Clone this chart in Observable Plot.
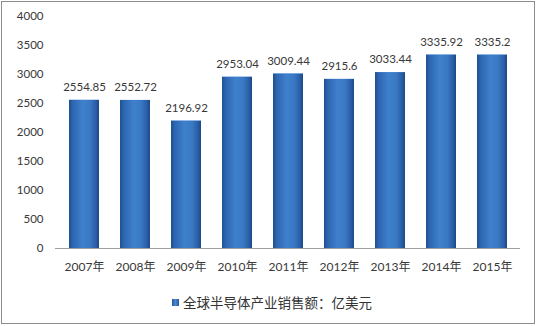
<!DOCTYPE html>
<html><head><meta charset="utf-8">
<script src="https://cdn.jsdelivr.net/npm/d3@7"></script>
<script src="https://cdn.jsdelivr.net/npm/@observablehq/plot@0.6"></script>
<style>
body{margin:0;background:#fff;}
#wrap{position:relative;width:536px;height:326px;overflow:hidden;font-family:Lato,"Noto Sans CJK SC",sans-serif;}
#frame{position:absolute;left:1px;top:1px;width:532px;height:321px;border:1px solid #8c8c8c;pointer-events:none;box-sizing:content-box;}
#chart{position:absolute;left:0;top:0;}
#legend{position:absolute;left:172px;top:292px;font-size:13.5px;color:#333;font-family:"Noto Sans CJK SC",sans-serif;display:flex;align-items:center;}
#legend span.sw{display:inline-block;width:7px;height:7px;background:linear-gradient(90deg,#25569a,#4a8ad4,#25569a);margin-right:4px;}
</style></head>
<body>
<div id="wrap"><div id="chart"></div><div id="legend"><span class="sw"></span><span id="ltext"></span></div><div id="frame"></div></div>
<script>
const years = ["2007年","2008年","2009年","2010年","2011年","2012年","2013年","2014年","2015年"];
const sales = [2554.85,2552.72,2196.92,2953.04,3009.44,2915.6,3033.44,3335.92,3335.2];
const labels = ["2554.85","2552.72","2196.92","2953.04","3009.44","2915.6","3033.44","3335.92","3335.2"];
const yTicks = [0,500,1000,1500,2000,2500,3000,3500,4000];
const seriesName = "全球半导体产业销售额：亿美元";

const data = years.map((y,i)=>({year:y, value:sales[i], label:labels[i]}));
const capH = 60;
const plot = Plot.plot({
  width:536, height:285,
  marginLeft:55, marginRight:16, marginTop:16, marginBottom:37,
  style:{fontFamily:"Lato, 'Noto Sans CJK SC', sans-serif", fontSize:"11.5px", color:"#383838", background:"transparent"},
  x:{domain:years, paddingInner:0.42, paddingOuter:0.21, label:null, tickSize:0, tickPadding:14},
  y:{domain:[0,4000], ticks:yTicks, tickFormat:d=>String(d), label:null, tickSize:0, tickPadding:12},
  marks:[
    Plot.barY(data,{x:"year", y:"value", fill:"url(#barGrad)"}),
    Plot.barY(data,{x:"year", y1:d=>d.value-capH, y2:"value", fill:"url(#capGrad)"}),
    Plot.ruleX([0],{frameAnchor:"left", stroke:"#a0a0a0"}),
    Plot.ruleY([0],{stroke:"#a0a0a0"}),
    Plot.text(data,{x:"year", y:"value", text:"label", dy:-13, fill:"#383838", fontSize:11.5})
  ]
});
const svg = d3.select(plot);
svg.selectAll("[aria-label='x-axis tick label'] text").style("font-size","12px");
const defs = svg.insert("defs",":first-child");
const g = defs.append("linearGradient").attr("id","barGrad").attr("x1","0").attr("x2","1").attr("y1","0").attr("y2","0");
[["0%","#1f4f90"],["12%","#2d65b0"],["45%","#3f80cc"],["70%","#3a79c4"],["90%","#2a5ea6"],["100%","#1c4886"]].forEach(([o,c])=>g.append("stop").attr("offset",o).attr("stop-color",c));
const c = defs.append("linearGradient").attr("id","capGrad").attr("x1","0").attr("x2","0").attr("y1","0").attr("y2","1");
[["0%","#6fa6e6",1],["6%","#4a8ad6",0.9],["14%","#3f80cc",0],["100%","#3f80cc",0]].forEach(([o,col,op])=>c.append("stop").attr("offset",o).attr("stop-color",col).attr("stop-opacity",op));
document.getElementById("chart").appendChild(plot);
document.getElementById("ltext").textContent = seriesName;
</script>
</body></html>
